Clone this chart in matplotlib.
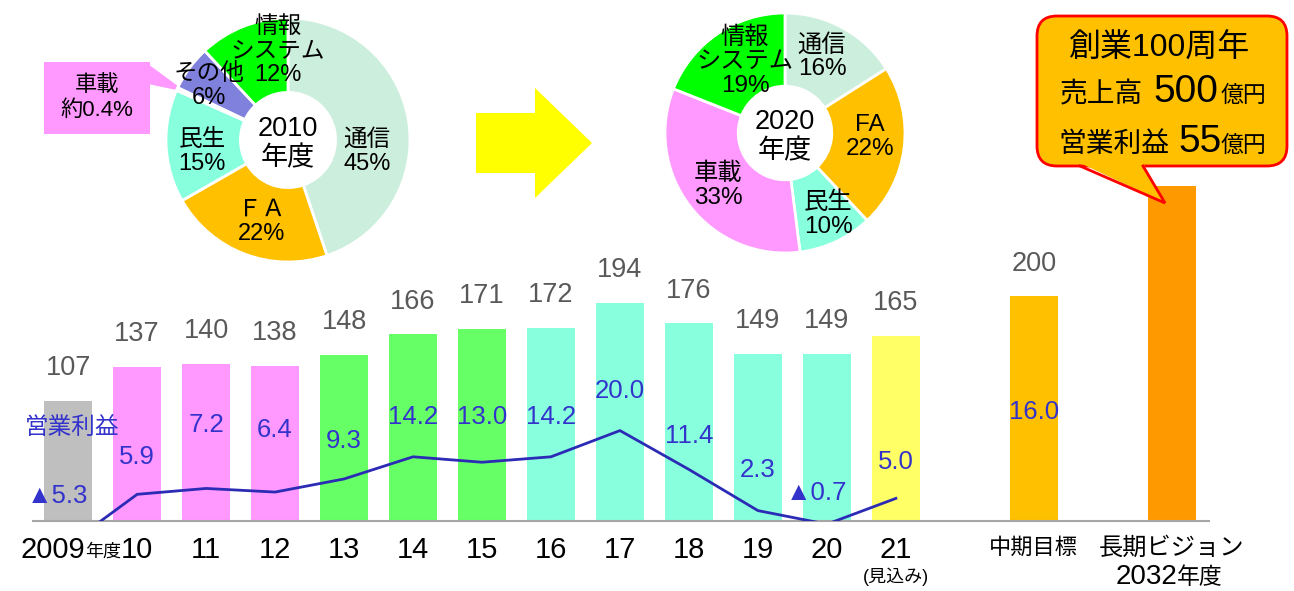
import matplotlib
matplotlib.use('Agg')
import matplotlib.pyplot as plt
from matplotlib.patches import Polygon, FancyBboxPatch, Rectangle
from matplotlib.transforms import blended_transform_factory

plt.rcParams['font.family'] = ['Liberation Sans', 'Noto Sans CJK JP', 'DejaVu Sans']

# ---------------- data ----------------
years = ['2009', '10', '11', '12', '13', '14', '15', '16', '17', '18', '19', '20', '21']
sales = [107, 137, 140, 138, 148, 166, 171, 172, 194, 176, 149, 149, 165]
profit = [-5.3, 5.9, 7.2, 6.4, 9.3, 14.2, 13.0, 14.2, 20.0, 11.4, 2.3, -0.7, 5.0]
target_names = ['中期目標', '長期ビジョン']
target_sales = [200, 500]
target_profit = [16.0, 55]

pie2010_labels = ['通信', 'ＦＡ', '民生', '車載', 'その他', '情報\nシステム']
pie2010_values = [45, 22, 15, 0.4, 6, 12]
pie2020_labels = ['通信', 'FA', '民生', '車載', '情報\nシステム']
pie2020_values = [16, 22, 10, 33, 19]

# ---------------- style ----------------
bar_colors = ['#BFBFBF'] + ['#FF99FF'] * 3 + ['#66FF66'] * 3 + ['#88FFDD'] * 5 + ['#FFFF66']
target_colors = ['#FFC000', '#FF9900']
target_pos = [14, 16]
seg_colors = {'通信': '#CCEEDD', 'ＦＡ': '#FFC000', 'FA': '#FFC000', '民生': '#88FFDD',
              '車載': '#FF99FF', 'その他': '#8080DD', '情報\nシステム': '#00FF00'}
# label positions for profit values (in profit-axis units)
profit_label_y = [5.6, 14.2, 21.3, 20.2, 17.6, 22.9, 22.9, 22.9, 28.7, 18.7, 11.3, 6.2, 13.1]
target_profit_label_y = 24.2
blue = '#3333CC'
line_blue = '#2B2BB5'
grey_txt = '#595959'

W, H = 1294, 591
fig = plt.figure(figsize=(W / 100, H / 100), dpi=100)

# main bar axes (pixel box: x 33..1209, y 186..521)
ax = fig.add_axes([33 / W, (H - 521) / H, 1176 / W, 335 / H])
ax.patch.set_visible(False)
x = list(range(len(years)))
ax.bar(x, sales, width=0.7, color=bar_colors, zorder=2)
ax.bar(target_pos, target_sales, width=0.7, color=target_colors, zorder=2)
ax.set_xlim(-0.51, 16.54)
ax.set_ylim(0, 298)
for s in ['top', 'right', 'left']:
    ax.spines[s].set_visible(False)
ax.spines['bottom'].set_color('#A6A6A6')
ax.spines['bottom'].set_linewidth(1.5)
ax.spines['bottom'].set_zorder(5)
ax.set_xticks([])
ax.set_yticks([])

for xi, v in zip(x, sales):
    ax.annotate(f'{v}', (xi, v), xytext=(0, 23.5), textcoords='offset points',
                ha='center', va='center', fontsize=19.5, color=grey_txt)
ax.annotate(f'{target_sales[0]}', (target_pos[0], target_sales[0]), xytext=(0, 23.5),
            textcoords='offset points', ha='center', va='center', fontsize=19.5, color=grey_txt)

ax2 = ax.twinx()
ax2.patch.set_visible(False)
ax2.set_ylim(0, 74.1)
ax2.axis('off')
ax2.plot(x, profit, color=line_blue, lw=2, zorder=3)
for xi, v, ly in zip(x, profit, profit_label_y):
    t = f'▲{abs(v):.1f}' if v < 0 else f'{v:.1f}'
    ax2.text(xi - (0.15 if v < 0 else 0), ly, t, ha='center', va='center', fontsize=18.5, color=blue)
ax2.text(target_pos[0], target_profit_label_y, f'{target_profit[0]:.1f}', ha='center',
         va='center', fontsize=18.5, color=blue)

# overlay in pixel coordinates
ov = fig.add_axes([0, 0, 1, 1], zorder=5)
ov.patch.set_visible(False)
ov.set_xlim(0, W)
ov.set_ylim(H, 0)
ov.axis('off')
tr = blended_transform_factory(ax.transData, ov.transData)

ov.text(25, 428, '営業利益', ha='left', va='center', fontsize=17, color=blue)

# x labels
ov.text(0.25, 550, '2009', transform=tr, ha='right', va='center', fontsize=21)
ov.text(0.25, 552, '年度', transform=tr, ha='left', va='center', fontsize=13)
for xi, y in zip(x[1:], years[1:]):
    ov.text(xi, 550, y, transform=tr, ha='center', va='center', fontsize=21)
ov.text(12, 577, '(見込み)', transform=tr, ha='center', va='center', fontsize=13)
ov.text(target_pos[0], 548, target_names[0], transform=tr, ha='center', va='center', fontsize=16)
ov.text(target_pos[1], 548, target_names[1], transform=tr, ha='center', va='center', fontsize=17.5)
ov.text(target_pos[1] + 0.08, 577, '2032', transform=tr, ha='right', va='center', fontsize=20)
ov.text(target_pos[1] + 0.08, 578, '年度', transform=tr, ha='left', va='center', fontsize=16.5)

# yellow arrow
ov.add_patch(Polygon([(476, 113), (535, 113), (535, 88), (592, 143), (535, 198),
                      (535, 173), (476, 173)], closed=True, color='#FFFF00', lw=0))

# callout
ov.add_patch(FancyBboxPatch((1037, 16), 250, 150, boxstyle='round,pad=0,rounding_size=20',
                            facecolor='#FFC000', edgecolor='#FF0000', lw=2))
ov.add_patch(Polygon([(1080, 163), (1143, 163), (1165, 203)], closed=True,
                     facecolor='#FFC000', edgecolor='none'))
ov.plot([1080, 1165, 1143], [166, 203, 166], color='#FF0000', lw=2, solid_joinstyle='miter')
ov.text(1160, 57, '創業100周年', ha='center', va='baseline', fontsize=23)
ov.text(1060, 102, '売上高', ha='left', va='baseline', fontsize=20)
ov.text(1153, 102, '500', ha='left', va='baseline', fontsize=28)
ov.text(1221, 102, '億円', ha='left', va='baseline', fontsize=16.5)
ov.text(1058, 152, '営業利益', ha='left', va='baseline', fontsize=20)
ov.text(1178, 152, '55', ha='left', va='baseline', fontsize=28)
ov.text(1221, 152, '億円', ha='left', va='baseline', fontsize=16.5)

# 車載 callout for 2010 pie
ov.add_patch(Polygon([(148, 64), (148, 84), (186, 92)], closed=True, color='#FF99FF', lw=0))
ov.add_patch(Rectangle((44, 62), 106, 72, color='#FF99FF', lw=0))
ov.text(97, 98, '車載\n約0.4%', ha='center', va='center', fontsize=16, linespacing=1.3)


def draw_pie(cx, cy, r, labels, values, label_pos, center_text, skip=(), fs=17.5):
    pa = fig.add_axes([(cx - r) / W, (H - cy - r) / H, 2 * r / W, 2 * r / H], zorder=6)
    pa.pie(values, colors=[seg_colors[l] for l in labels], startangle=90, counterclock=False,
           wedgeprops=dict(width=0.61, edgecolor='white', linewidth=2))
    pa.set_xlim(-1, 1)
    pa.set_ylim(-1, 1)
    pa.axis('off')
    for lab, v, (px, py) in zip(labels, values, label_pos):
        if lab in skip:
            continue
        pa.text((px - cx) / r, -(py - cy) / r, f'{lab}\n{v}%', ha='center', va='center',
                fontsize=fs, linespacing=1.12)
    pa.text(0, -0.03, center_text, ha='center', va='center', fontsize=19.5, linespacing=1.15)


draw_pie(288, 140, 122, pie2010_labels, pie2010_values,
         [(367, 152), (262, 222), (202, 152), (0, 0), (209, 86), (278, 51)],
         '2010\n年度', skip=('車載',), fs=17)
draw_pie(785, 133, 120, pie2020_labels, pie2020_values,
         [(822, 57), (870, 137), (828, 215), (718, 186), (745, 62)],
         '2020\n年度')

fig.savefig('out.png', dpi=100)
